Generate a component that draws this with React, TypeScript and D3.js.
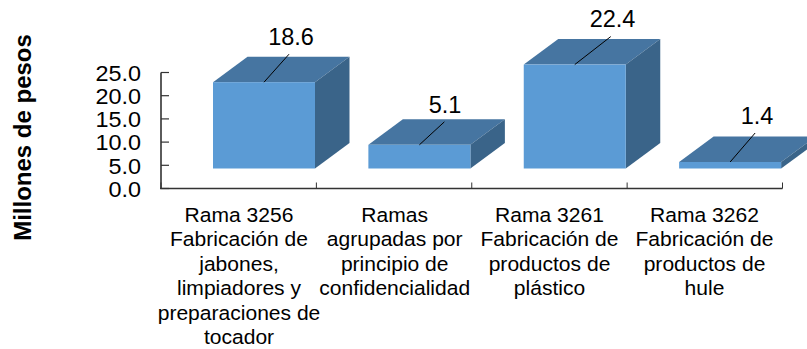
import React from "react";
import * as d3 from "d3";

const categories = ["r3256", "agrupadas", "r3261", "r3262"];
const values = [18.6, 5.1, 22.4, 1.4];
const valueLabels = ["18.6", "5.1", "22.4", "1.4"];
const yTicks = [0, 5, 10, 15, 20, 25];
const categoryLines = [
  ["Rama 3256", "Fabricación de", "jabones,", "limpiadores y", "preparaciones de", "tocador"],
  ["Ramas", "agrupadas por", "principio de", "confidencialidad"],
  ["Rama 3261", "Fabricación de", "productos de", "plástico"],
  ["Rama 3262", "Fabricación de", "productos de", "hule"],
];
const leaderTop = [
  [25, 28],
  [25, 23],
  [36, 28],
  [25, 29],
];
const labelCenters = [291, 445, 612.5, 757];
const labelY = [45, 113.3, 26.7, 124];
const categoryCenters = [239, 394.7, 549.5, 704.5];

const FONT = "'Liberation Sans', Arial, sans-serif";
const FRONT = "#5b9bd5";
const TOP = "#4675a1";
const SIDE = "#3a6489";
const STRETCH = 1.08;

export default function App() {
  const x = d3.scaleBand<string>().domain(categories).range([161, 782.5]).padding(0);
  const y = d3.scaleLinear().domain([0, 25]).range([188.5, 72.5]);
  const floor = 20;
  const dx = 34.5;
  const dy = 25.5;
  const barW = 102;
  const barOff = 52;
  const line = d3.line();

  return (
    <svg width={807} height={349} style={{ position: "absolute", left: 0, top: 0 }} fontFamily={FONT}>
      <text
        transform="translate(31,137.5) rotate(-90)"
        textAnchor="middle"
        fontSize={24}
        fontWeight="bold"
        fill="#000"
      >
        Millones de pesos
      </text>

      {yTicks.map((t) => (
        <g key={t}>
          <line x1={161} x2={169} y1={y(t)} y2={y(t)} stroke="#333" strokeWidth={1.2} />
          <text
            transform={`translate(141,${y(t) + 8.2}) scale(1.04,1)`}
            textAnchor="end"
            fontSize={22.5}
            fill="#000"
          >
            {t.toFixed(1)}
          </text>
        </g>
      ))}
      <line x1={161} x2={161} y1={y(25)} y2={y(0)} stroke="#333" strokeWidth={1.6} />
      <line x1={160} x2={782.5} y1={y(0)} y2={y(0)} stroke="#333" strokeWidth={1.4} />
      {[...categories.map((c) => x(c) as number), 782.5].map((p, i) => (
        <line key={i} x1={p} x2={p} y1={y(0)} y2={y(0) - 6} stroke="#333" strokeWidth={1} />
      ))}

      {categories.map((c, i) => {
        const x0 = (x(c) as number) + barOff;
        const x1 = x0 + barW;
        const yB = y(0) - floor;
        const yT = y(values[i]) - floor;
        const cx = (x0 + x1) / 2;
        const [ldx, ldy] = leaderTop[i];
        return (
          <g key={c}>
            <path
              d={line([[x0, yT], [x0 + dx, yT - dy], [x1 + dx, yT - dy], [x1, yT]])! + "Z"}
              fill={TOP}
            />
            <path
              d={line([[x1, yT], [x1 + dx, yT - dy], [x1 + dx, yB - dy], [x1, yB]])! + "Z"}
              fill={SIDE}
            />
            <rect x={x0} y={yT} width={barW} height={yB - yT} fill={FRONT} />
            <line x1={cx} y1={yT} x2={cx + ldx} y2={yT - ldy} stroke="#000" strokeWidth={1} />
            <text
              x={labelCenters[i]}
              y={labelY[i]}
              textAnchor="middle"
              fontSize={23.5}
              fill="#000"
            >
              {valueLabels[i]}
            </text>
            {categoryLines[i].map((l, k) => (
              <text
                key={k}
                transform={`translate(${categoryCenters[i]},${221.7 + k * 24.45}) scale(${STRETCH},1)`}
                textAnchor="middle"
                fontSize={19.5}
                fill="#000"
              >
                {l}
              </text>
            ))}
          </g>
        );
      })}
    </svg>
  );
}
